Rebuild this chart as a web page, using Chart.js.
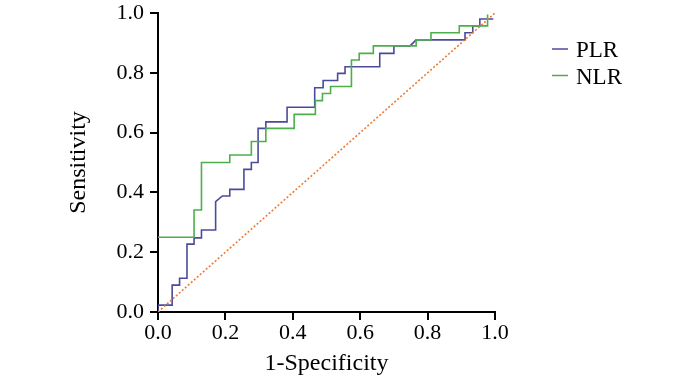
<!DOCTYPE html>
<html>
<head>
<meta charset="utf-8">
<script src="https://cdn.jsdelivr.net/npm/chart.js@4.4.0/dist/chart.umd.min.js"></script>
<style>
  html, body { margin: 0; padding: 0; background: #fff; }
  #wrap { width: 700px; height: 386px; }
</style>
</head>
<body>
<div id="wrap"><canvas id="rocChart"></canvas></div>
<script>
// ROC curve corners (1-specificity, sensitivity)
const seriesNames = ['PLR', 'NLR'];
const plrFpr  = [0, 0, 0.042, 0.042, 0.064, 0.064, 0.086, 0.086, 0.107, 0.107, 0.129, 0.129, 0.171, 0.171, 0.191, 0.213, 0.213, 0.255, 0.255, 0.277, 0.277, 0.297, 0.297, 0.32, 0.32, 0.383, 0.383, 0.465, 0.465, 0.49, 0.49, 0.533, 0.533, 0.555, 0.555, 0.658, 0.658, 0.70, 0.70, 0.748, 0.766, 0.911, 0.911, 0.934, 0.934, 0.955, 0.955, 0.995];
const plrSens = [0, 0.023, 0.023, 0.09, 0.09, 0.113, 0.113, 0.227, 0.227, 0.248, 0.248, 0.274, 0.274, 0.369, 0.388, 0.388, 0.41, 0.41, 0.477, 0.477, 0.50, 0.50, 0.614, 0.614, 0.636, 0.636, 0.685, 0.685, 0.75, 0.75, 0.774, 0.774, 0.798, 0.798, 0.82, 0.82, 0.865, 0.865, 0.89, 0.89, 0.91, 0.91, 0.934, 0.934, 0.957, 0.957, 0.98, 0.98];
const nlrFpr  = [0, 0.107, 0.107, 0.129, 0.129, 0.213, 0.213, 0.277, 0.277, 0.32, 0.32, 0.404, 0.404, 0.467, 0.467, 0.488, 0.488, 0.512, 0.512, 0.574, 0.574, 0.597, 0.597, 0.639, 0.639, 0.766, 0.766, 0.81, 0.81, 0.894, 0.894, 0.978, 0.978];
const nlrSens = [0.25, 0.25, 0.341, 0.341, 0.50, 0.50, 0.525, 0.525, 0.57, 0.57, 0.614, 0.614, 0.661, 0.661, 0.707, 0.707, 0.731, 0.731, 0.754, 0.754, 0.843, 0.843, 0.865, 0.865, 0.89, 0.89, 0.91, 0.91, 0.934, 0.934, 0.957, 0.957, 0.995];
const refFpr  = [0, 1];
const refSens = [0, 1];
const xTicks = [0, 0.2, 0.4, 0.6, 0.8, 1.0];
const yTicks = [0, 0.2, 0.4, 0.6, 0.8, 1.0];

const serif = '"Liberation Serif", "Times New Roman", serif';
const zip = (xs, ys) => xs.map((x, i) => ({ x: x, y: ys[i] }));

// legend drawn to the right of the plot, like the original
const sideLegend = {
    id: 'sideLegend',
    afterDraw(chart) {
        const ctx = chart.ctx;
        ctx.save();
        ctx.font = '23px ' + serif;
        ctx.textBaseline = 'middle';
        chart.data.datasets.forEach((ds, i) => {
            if (!ds.inLegend) return;
            const y = 49 + i * 26.5;
            ctx.strokeStyle = ds.borderColor;
            ctx.lineWidth = 1.5;
            ctx.beginPath();
            ctx.moveTo(552, y);
            ctx.lineTo(568, y);
            ctx.stroke();
            ctx.fillStyle = '#000';
            ctx.fillText(ds.label, 576, y + 2);
        });
        ctx.restore();
    }
};

const axisCommon = {
    type: 'linear',
    min: 0,
    max: 1,
    border: { display: true, color: '#000', width: 2 },
    grid: { drawOnChartArea: false, drawTicks: true, tickLength: 8, color: '#000', lineWidth: 2 },
};

new Chart(document.getElementById('rocChart'), {
    type: 'scatter',
    data: {
        datasets: [
            {
                label: seriesNames[0],
                data: zip(plrFpr, plrSens),
                showLine: true,
                borderColor: '#4b4b9b',
                borderWidth: 1.6,
                pointRadius: 0,
                inLegend: true,
                order: 2
            },
            {
                label: seriesNames[1],
                data: zip(nlrFpr, nlrSens),
                showLine: true,
                borderColor: '#4daf4a',
                borderWidth: 1.6,
                pointRadius: 0,
                inLegend: true,
                order: 1
            },
            {
                label: 'Reference',
                data: zip(refFpr, refSens),
                showLine: true,
                borderColor: '#ee7a32',
                borderWidth: 1.6,
                borderDash: [2, 2],
                pointRadius: 0,
                inLegend: false,
                order: 0
            }
        ]
    },
    options: {
        responsive: true,
        maintainAspectRatio: false,
        animation: false,
        layout: { padding: { left: 64, right: 205, top: 0, bottom: 8 } },
        plugins: {
            legend: { display: false },
            tooltip: { enabled: false }
        },
        scales: {
            x: {
                ...axisCommon,
                position: 'bottom',
                afterBuildTicks: s => { s.ticks = xTicks.map(v => ({ value: v })); },
                afterFit: s => { s.height = 66; },
                ticks: {
                    color: '#000',
                    font: { family: serif, size: 22 },
                    padding: 0,
                    maxRotation: 0,
                    callback: v => v.toFixed(1)
                },
                title: {
                    display: true,
                    text: '1-Specificity',
                    color: '#000',
                    font: { family: serif, size: 24 },
                    padding: 0
                }
            },
            y: {
                ...axisCommon,
                position: 'left',
                afterBuildTicks: s => { s.ticks = yTicks.map(v => ({ value: v })); },
                afterFit: s => { s.width = 94; s.paddingTop = 13; s.paddingBottom = 0; },
                ticks: {
                    color: '#000',
                    font: { family: serif, size: 22 },
                    padding: 6,
                    callback: v => v.toFixed(1)
                },
                title: {
                    display: true,
                    text: 'Sensitivity',
                    color: '#000',
                    font: { family: serif, size: 24 },
                    padding: 0
                }
            }
        }
    },
    plugins: [sideLegend]
});
</script>
</body>
</html>
